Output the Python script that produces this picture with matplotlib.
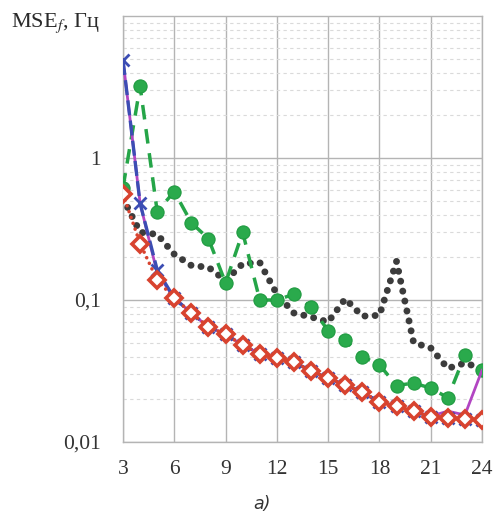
import matplotlib
matplotlib.use("Agg")
import matplotlib.pyplot as plt
from matplotlib.ticker import FixedLocator, LogLocator, NullFormatter

# channel count on x, MSE_f in Hz on y
n_ch = [3, 4, 5, 6, 7, 8, 9, 10, 11, 12, 13, 14, 15, 16, 17, 18, 19, 20, 21, 22, 23, 24]

mse_dots = [0.52, 0.30, 0.29, 0.21, 0.175, 0.17, 0.137, 0.18, 0.184, 0.11, 0.081, 0.076,
            0.070, 0.102, 0.077, 0.078, 0.187, 0.050, 0.046, 0.033, 0.036, 0.033]
mse_green = [0.62, 3.2, 0.42, 0.58, 0.35, 0.27, 0.132, 0.30, 0.10, 0.10, 0.11, 0.089,
             0.061, 0.052, 0.040, 0.035, 0.025, 0.026, 0.024, 0.0205, 0.041, 0.032]
mse_blue = [4.9, 0.48, 0.163, 0.103, 0.081, 0.0645, 0.0576, 0.048, 0.042, 0.039, 0.0366,
            0.0316, 0.0282, 0.0252, 0.0225, 0.0191, 0.0179, 0.0165, 0.015, 0.0148, 0.0145, 0.0143]
mse_magenta = [4.9, 0.48, 0.155, 0.103, 0.081, 0.0645, 0.0576, 0.048, 0.042, 0.039, 0.0366,
               0.0316, 0.0282, 0.0252, 0.0225, 0.0191, 0.0179, 0.0165, 0.0152, 0.0165, 0.0155, 0.032]
mse_red = [0.557, 0.25, 0.138, 0.103, 0.081, 0.0645, 0.0576, 0.048, 0.042, 0.039, 0.0366,
           0.0316, 0.0282, 0.0252, 0.0225, 0.0191, 0.0179, 0.0165, 0.015, 0.0148, 0.0145, 0.0143]

x_ticks = [3, 6, 9, 12, 15, 18, 21, 24]
y_ticks = [0.01, 0.1, 1]
y_ticklabels = ["0,01", "0,1", "1"]

plt.rcParams['mathtext.fontset'] = 'stix'
serif = 'Liberation Serif'

fig = plt.figure(figsize=(4.94, 5.15), dpi=100)
ax = fig.add_axes([0.249, 0.1417, 0.7267, 0.8272])

# series
ax.plot(n_ch, mse_dots, color='#3c3c3c', lw=5.0, linestyle=(0, (0.01, 1.45)),
        dash_capstyle='round', zorder=2)
ax.plot(n_ch, mse_green, color='#25a548', lw=2.5, linestyle=(0, (4.2, 2.8)),
        marker='o', ms=9.5, mfc='#2aaa4c', mec='#1f9a40', mew=0.8, zorder=3)
ax.plot(n_ch, mse_magenta, color='#b245c2', lw=2.0, zorder=4)
ax.plot(n_ch, mse_blue, color='#3c4db3', lw=2.4, linestyle=(0, (4.5, 1.6)),
        marker='x', ms=8.5, mew=2.0, zorder=5)
ax.plot(n_ch, mse_red, color='#d8432f', lw=2.6, linestyle=(0, (0.01, 1.7)),
        dash_capstyle='round', marker='D', ms=8.6, mfc='white', mec='#d8432f',
        mew=2.6, zorder=6)

ax.set_yscale('log')
ax.set_xlim(3, 24)
ax.set_ylim(0.01, 10)

ax.xaxis.set_major_locator(FixedLocator(x_ticks))
ax.yaxis.set_major_locator(FixedLocator(y_ticks))
ax.set_yticklabels(y_ticklabels)
ax.yaxis.set_minor_locator(LogLocator(base=10, subs=range(2, 10)))
ax.yaxis.set_minor_formatter(NullFormatter())

ax.grid(which='major', color='#b4b4b4', lw=1.0, linestyle='-')
ax.grid(which='minor', axis='y', color='#dadada', lw=0.8, linestyle=(0, (3, 3)))
ax.set_axisbelow(True)

for s in ax.spines.values():
    s.set_color('#b4b4b4')
    s.set_linewidth(1.0)

ax.tick_params(which='both', length=0)
ax.tick_params(axis='x', pad=13, labelsize=15.5, labelcolor='#333333')
ax.tick_params(axis='y', pad=16, labelsize=15.5, labelcolor='#333333')
for lab in ax.get_xticklabels() + ax.get_yticklabels():
    lab.set_fontfamily(serif)

fig.text(0.022, 0.955, r"MSE$_{f}$, Гц", fontsize=16, family=serif,
         color='#2a2a2a', va='center', ha='left')
fig.text(0.53, 0.003, "a)", fontsize=12.5, style='italic', family='DejaVu Sans',
         color='#333333', ha='center', va='bottom')

fig.savefig("out.png", dpi=100)
